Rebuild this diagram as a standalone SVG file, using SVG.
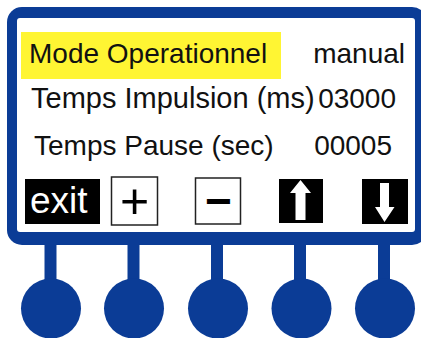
<svg xmlns="http://www.w3.org/2000/svg" width="421" height="338" viewBox="0 0 421 338">
<style>
.t{font-family:"Liberation Sans",Arial,sans-serif;font-size:28px;fill:#111}
.blue{fill:#0B3C96}
.stem{stroke:#0B3C96;stroke-width:12}
.wbtn{fill:#fff;stroke:#222;stroke-width:1.5}
.bbtn{fill:#000}
.sym{font-family:"Liberation Sans",Arial,sans-serif;font-size:46px;fill:#000;text-anchor:middle}
</style>
<rect width="421" height="338" fill="#fff"/>
<g id="connectors">
<line class="stem" x1="50.5" y1="240" x2="50.5" y2="285"/>
<line class="stem" x1="133.5" y1="240" x2="133.5" y2="285"/>
<line class="stem" x1="217" y1="240" x2="217" y2="285"/>
<line class="stem" x1="300" y1="240" x2="300" y2="285"/>
<line class="stem" x1="384" y1="240" x2="384" y2="285"/>
</g>
<g id="display">
<rect x="7" y="7" width="420" height="238" rx="15" class="blue"/>
<rect x="17" y="18" width="398" height="214" rx="3" fill="#fff"/>
</g>
<g id="row-mode">
<rect x="21" y="32" width="260" height="47" fill="#FFF533"/>
<text class="t" x="29" y="63">Mode Operationnel</text>
<text class="t" x="405" y="63" text-anchor="end">manual</text>
</g>
<g id="row-impulsion">
<text class="t" x="31" y="108" style="font-size:29px">Temps Impulsion (ms)</text>
<text class="t" x="396" y="108" text-anchor="end">03000</text>
</g>
<g id="row-pause">
<text class="t" x="34" y="155">Temps Pause (sec)</text>
<text class="t" x="392" y="155" text-anchor="end">00005</text>
</g>
<g id="btn-exit">
<rect x="25" y="179" width="75" height="45" class="bbtn"/>
<text x="30" y="213" style="font-family:'Liberation Sans',Arial,sans-serif;font-size:37px;fill:#fff">exit</text>
</g>
<g id="btn-plus">
<rect x="111.5" y="177" width="46" height="48" class="wbtn"/>
<text class="sym" x="134.5" y="218" style="font-size:50px">+</text>
</g>
<g id="btn-minus">
<rect x="195.5" y="178" width="45" height="46" class="wbtn"/>
<text class="sym" x="218.5" y="217" style="font-weight:bold">−</text>
</g>
<g id="btn-up">
<rect x="279" y="179" width="44" height="44" class="bbtn"/>
<polygon points="300.5,180 311,193 305.5,193 305.5,220 295.5,220 295.5,193 290,193" fill="#fff"/>
</g>
<g id="btn-down">
<rect x="362" y="179" width="46" height="45" class="bbtn"/>
<polygon points="380,183 389,183 389,207 394.5,207 384.5,222 375,207 380,207" fill="#fff"/>
</g>
<g id="knob-1"><circle cx="51" cy="308.5" r="30" class="blue"/></g>
<g id="knob-2"><circle cx="134" cy="308.5" r="30" class="blue"/></g>
<g id="knob-3"><circle cx="218" cy="308.5" r="30" class="blue"/></g>
<g id="knob-4"><circle cx="301.5" cy="308.5" r="30" class="blue"/></g>
<g id="knob-5"><circle cx="385" cy="308.5" r="30" class="blue"/></g>
</svg>
